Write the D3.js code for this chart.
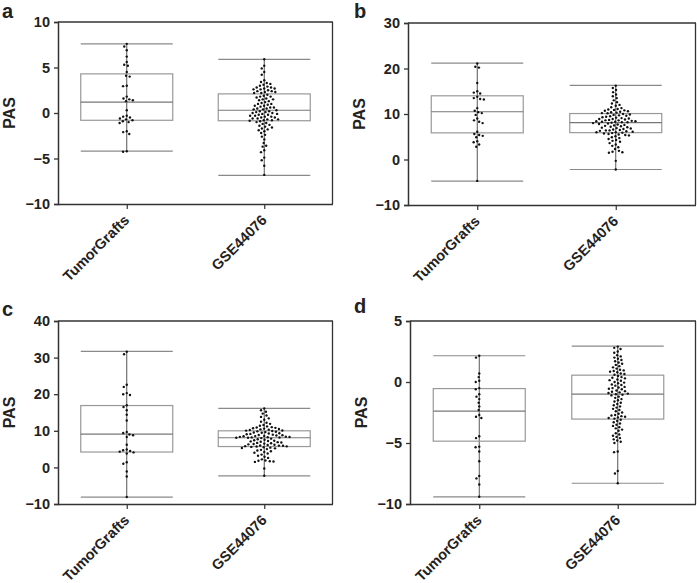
<!DOCTYPE html>
<html><head><meta charset="utf-8">
<script src="https://cdn.jsdelivr.net/npm/d3@7/dist/d3.min.js"></script>
<style>body{margin:0;background:#fff}svg{display:block}text{font-family:"Liberation Sans",Arial,sans-serif;font-weight:bold;fill:#222}</style>
</head><body><svg id="c" width="697" height="583"></svg>
<script>
const categories = ["TumorGrafts", "GSE44076"];
const panelLabels = ["a", "b", "c", "d"];
const yTicksA = [-10, -5, 0, 5, 10];
const yTicksB = [-10, 0, 10, 20, 30];
const yTicksC = [-10, 0, 10, 20, 30, 40];
const yTicksD = [-10, -5, 0, 5];

// box stats: [min, q1, median, q3, max]
const statsA_TG = [-4.2, -0.8, 1.2, 4.3, 7.6];
const statsA_GSE = [-6.85, -0.85, 0.3, 2.1, 5.9];
const statsB_TG = [-4.75, 5.85, 10.5, 14.0, 21.2];
const statsB_GSE = [-2.2, 5.9, 8.1, 10.1, 16.3];
const statsC_TG = [-8.1, 4.2, 9.1, 16.9, 31.7];
const statsC_GSE = [-2.3, 5.7, 8.1, 10.0, 16.1];
const statsD_TG = [-9.42, -4.85, -2.38, -0.54, 2.15];
const statsD_GSE = [-8.3, -3.04, -1.0, 0.56, 2.94];

const dotsA_TG = [7.6, 7.3, 6.9, 6.2, 5.6, 5.3, 5.2, 4.5, 4.1, 4.0, 3.0, 2.95, 1.8, 1.6, 1.5, 1.4, 1.3, 0.3, -0.3, -0.4, -0.5, -0.6, -0.7, -0.8, -0.9, -1.0, -1.1, -2.0, -2.1, -2.3, -4.2, -4.25];
const dotsA_GSE = [5.9, 5.2, 4.9, 4.5, 4.2, 3.6, 3.4, 3.3, 3.2, 3.1, 3.0, 2.9, 2.8, 2.8, 2.7, 2.7, 2.6, 2.6, 2.5, 2.4, 2.4, 2.3, 2.3, 2.2, 2.2,
  2.0, 1.9, 1.8, 1.8, 1.7, 1.6, 1.5, 1.5, 1.4, 1.3, 1.2, 1.1, 1.0, 1.0, 0.9, 0.8, 0.8, 0.7, 0.6, 0.6, 0.5, 0.5, 0.4, 0.4, 0.3,
  0.2, 0.2, 0.1, 0.1, 0.0, 0.0, -0.1, -0.1, -0.2, -0.2, -0.3, -0.3, -0.4, -0.4, -0.5, -0.5, -0.6, -0.6, -0.7, -0.7, -0.8, -0.8, -0.85, -0.9,
  -1.0, -1.1, -1.2, -1.3, -1.4, -1.5, -1.6, -1.7, -1.8, -1.9, -2.0, -2.2, -2.4, -2.6, -2.9, -3.3, -3.6, -3.7, -4.1, -4.3, -4.9, -5.2, -5.8, -6.8];
const dotsB_TG = [21.1, 20.4, 20.2, 16.8, 15.0, 14.7, 14.5, 13.8, 13.5, 13.3, 13.2, 11.3, 10.7, 10.4, 10.2, 9.8, 9.0, 8.6, 8.3, 8.0, 6.1, 5.6, 5.4, 5.2, 4.9, 4.0, 3.8, 3.3, 2.8, -4.7];
const dotsB_GSE = [16.2, 15.7, 15.3, 14.8, 14.3, 13.9, 13.5, 13.0, 12.6, 12.3, 12.0, 11.8, 11.5, 11.3, 11.1, 11.0, 10.9, 10.8, 10.7, 10.6, 10.5, 10.4, 10.3, 10.2, 10.15,
  10.0, 9.9, 9.8, 9.7, 9.6, 9.5, 9.4, 9.3, 9.2, 9.1, 9.0, 8.9, 8.9, 8.8, 8.7, 8.6, 8.6, 8.5, 8.4, 8.4, 8.3, 8.3, 8.2, 8.2, 8.1,
  8.0, 7.9, 7.8, 7.7, 7.6, 7.5, 7.4, 7.3, 7.2, 7.1, 7.0, 6.9, 6.8, 6.7, 6.6, 6.5, 6.4, 6.4, 6.3, 6.2, 6.1, 6.0, 6.0, 5.9,
  5.8, 5.7, 5.6, 5.5, 5.4, 5.3, 5.1, 4.9, 4.7, 4.5, 4.3, 4.1, 3.9, 3.6, 3.3, 3.0, 2.7, 2.3, 1.9, 1.7, 1.6, 1.5, -0.3, -2.2];
const dotsC_TG = [31.6, 30.9, 22.6, 22.0, 20.3, 20.0, 19.8, 17.0, 16.5, 15.6, 14.4, 12.8, 9.7, 9.4, 9.0, 8.8, 8.3, 6.2, 4.9, 4.7, 4.5, 4.3, 4.1, 3.8, 1.4, 1.0, -1.1, -2.5, -8.1];
const dotsC_GSE = [16.1, 15.6, 15.2, 14.7, 14.2, 13.8, 13.4, 13.0, 12.5, 12.2, 11.9, 11.6, 11.4, 11.2, 11.0, 10.9, 10.8, 10.7, 10.6, 10.5, 10.4, 10.3, 10.2, 10.1, 10.05,
  9.95, 9.85, 9.75, 9.65, 9.55, 9.45, 9.35, 9.25, 9.15, 9.05, 8.95, 8.85, 8.8, 8.7, 8.6, 8.55, 8.5, 8.4, 8.35, 8.3, 8.25, 8.2, 8.15, 8.1, 8.1,
  8.0, 7.85, 7.7, 7.55, 7.4, 7.3, 7.2, 7.1, 7.0, 6.9, 6.8, 6.7, 6.6, 6.5, 6.4, 6.3, 6.2, 6.1, 6.0, 5.95, 5.9, 5.8, 5.75, 5.7,
  5.6, 5.5, 5.4, 5.3, 5.2, 5.0, 4.8, 4.6, 4.4, 4.2, 4.0, 3.8, 3.5, 3.2, 2.9, 2.6, 2.2, 1.9, 1.8, 1.7, 1.6, 1.5, -0.3, -2.3];
const dotsD_TG = [2.15, 2.0, 0.7, 0.4, 0.1, 0.0, -0.5, -0.6, -1.0, -1.2, -1.4, -1.7, -2.0, -2.3, -2.7, -2.85, -2.95, -4.45, -4.6, -5.3, -5.35, -5.7, -6.5, -7.7, -7.9, -8.4, -9.4];
const dotsD_GSE = [2.9, 2.8, 2.7, 2.5, 2.4, 2.2, 2.1, 2.0, 1.9, 1.8, 1.7, 1.6, 1.5, 1.4, 1.3, 1.2, 1.1, 1.0, 0.95, 0.9, 0.85, 0.8, 0.7, 0.65, 0.6,
  0.5, 0.4, 0.35, 0.3, 0.2, 0.15, 0.1, 0.0, -0.05, -0.1, -0.2, -0.25, -0.3, -0.4, -0.45, -0.5, -0.55, -0.6, -0.7, -0.75, -0.8, -0.85, -0.9, -0.95, -1.0,
  -1.05, -1.1, -1.2, -1.3, -1.4, -1.5, -1.6, -1.7, -1.8, -1.9, -2.0, -2.1, -2.2, -2.3, -2.4, -2.5, -2.6, -2.7, -2.75, -2.8, -2.85, -2.9, -2.95, -3.0,
  -3.1, -3.2, -3.3, -3.4, -3.5, -3.6, -3.7, -3.8, -3.9, -4.0, -4.2, -4.3, -4.4, -4.5, -4.6, -4.7, -4.8, -4.9, -5.0, -5.7, -5.75, -7.3, -7.5, -8.3];

const panels = [
  {label: panelLabels[0], ticks: yTicksA, stats: [statsA_TG, statsA_GSE], dots: [dotsA_TG, dotsA_GSE], x0: 58, x1: 333, xr: 333, y0: 22, y1: 204, lx: 2, ly: 18},
  {label: panelLabels[1], ticks: yTicksB, stats: [statsB_TG, statsB_GSE], dots: [dotsB_TG, dotsB_GSE], x0: 408, x1: 685, xr: 696, y0: 23, y1: 205, lx: 354, ly: 18},
  {label: panelLabels[2], ticks: yTicksC, stats: [statsC_TG, statsC_GSE], dots: [dotsC_TG, dotsC_GSE], x0: 58, x1: 333, xr: 333, y0: 321, y1: 504, lx: 2, ly: 316},
  {label: panelLabels[3], ticks: yTicksD, stats: [statsD_TG, statsD_GSE], dots: [dotsD_TG, dotsD_GSE], x0: 410, x1: 687, xr: 696, y0: 321, y1: 504, lx: 354, ly: 313}
];

const svg = d3.select("#c");
const D = 3.7, R = 1.2, boxHalf = 46;

function swarm(ys) {
  const order = ys.map((y, i) => i).sort((a, b) => ys[a] - ys[b]);
  const placed = [];
  const xs = new Array(ys.length);
  for (const i of order) {
    const y = ys[i];
    const near = placed.filter(p => Math.abs(p.y - y) < D);
    const cands = [0];
    near.forEach(p => { const w = Math.sqrt(D * D - (p.y - y) ** 2); cands.push(p.x - w - 0.01, p.x + w + 0.01); });
    cands.sort((a, b) => Math.abs(a) - Math.abs(b) || a - b);
    let xx = 0;
    for (const c of cands) {
      if (near.every(p => (p.x - c) ** 2 + (p.y - y) ** 2 >= D * D - 0.02)) { xx = c; break; }
    }
    xs[i] = xx; placed.push({x: xx, y});
  }
  return xs;
}

panels.forEach(P => {
  const g = svg.append("g");
  const y = d3.scaleLinear().domain(d3.extent(P.ticks)).range([P.y1, P.y0]);
  const x = d3.scalePoint().domain(categories).range([P.x0, P.x1]).padding(0.5);

  g.append("line").attr("x1", P.x0).attr("x2", P.xr).attr("y1", P.y0).attr("y2", P.y0).attr("stroke", "#333").attr("stroke-width", 1.3);
  g.append("line").attr("x1", P.xr - 0.5).attr("x2", P.xr - 0.5).attr("y1", P.y0).attr("y2", P.y1).attr("stroke", "#333").attr("stroke-width", 1.3);

  const ya = g.append("g").attr("transform", `translate(${P.x0},0)`)
    .call(d3.axisLeft(y).tickValues(P.ticks).tickSize(4).tickPadding(4).tickFormat(d3.format("d")));
  ya.select(".domain").attr("stroke", "#333").attr("stroke-width", 1.5);
  ya.selectAll(".tick line").attr("stroke", "#333").attr("stroke-width", 1.3);
  ya.selectAll("text").attr("font-size", 14.5).attr("font-weight", "bold").attr("fill", "#222").attr("font-family", "Liberation Sans, Arial, sans-serif");

  const xa = g.append("g").attr("transform", `translate(0,${P.y1})`)
    .call(d3.axisBottom(x).tickSize(5).tickSizeOuter(0));
  xa.select(".domain").attr("d", `M${P.x0},0.5H${P.xr}`).attr("stroke", "#333").attr("stroke-width", 1.5);
  xa.selectAll(".tick line").attr("stroke", "#333").attr("stroke-width", 1.2);
  xa.selectAll("text").attr("font-size", 14.5).attr("font-weight", "bold").attr("fill", "#222")
    .attr("font-family", "Liberation Sans, Arial, sans-serif")
    .attr("text-anchor", "end").attr("dy", null).attr("y", 0)
    .attr("transform", "translate(3,17) rotate(-45)");

  g.append("text").attr("transform", `translate(${P.x0 - 43},${(P.y0 + P.y1) / 2}) rotate(-90)`)
    .attr("text-anchor", "middle").attr("font-size", 16).text("PAS");
  g.append("text").attr("x", P.lx).attr("y", P.ly).attr("font-size", 20).text(P.label);

  categories.forEach((cat, k) => {
    const s = P.stats[k];
    const cx = x(cat);
    g.append("line").attr("x1", cx).attr("x2", cx).attr("y1", y(s[0])).attr("y2", y(s[4])).attr("stroke", "#555").attr("stroke-width", 1);
    [s[0], s[4]].forEach(v => g.append("line").attr("x1", cx - boxHalf).attr("x2", cx + boxHalf).attr("y1", y(v)).attr("y2", y(v)).attr("stroke", "#8a8a8a").attr("stroke-width", 1.2));
    g.append("rect").attr("x", cx - boxHalf).attr("y", y(s[3])).attr("width", boxHalf * 2).attr("height", y(s[1]) - y(s[3]))
      .attr("fill", "none").attr("stroke", "#999").attr("stroke-width", 1.2);
    g.append("line").attr("x1", cx - boxHalf).attr("x2", cx + boxHalf).attr("y1", y(s[2])).attr("y2", y(s[2])).attr("stroke", "#777").attr("stroke-width", 1.2);
    const ys = P.dots[k].map(v => y(v));
    const xs = swarm(ys);
    g.append("g").selectAll("circle").data(P.dots[k]).join("circle")
      .attr("cx", (d, i) => cx + xs[i]).attr("cy", d => y(d)).attr("r", R).attr("fill", "#111");
  });
});
</script></body></html>
